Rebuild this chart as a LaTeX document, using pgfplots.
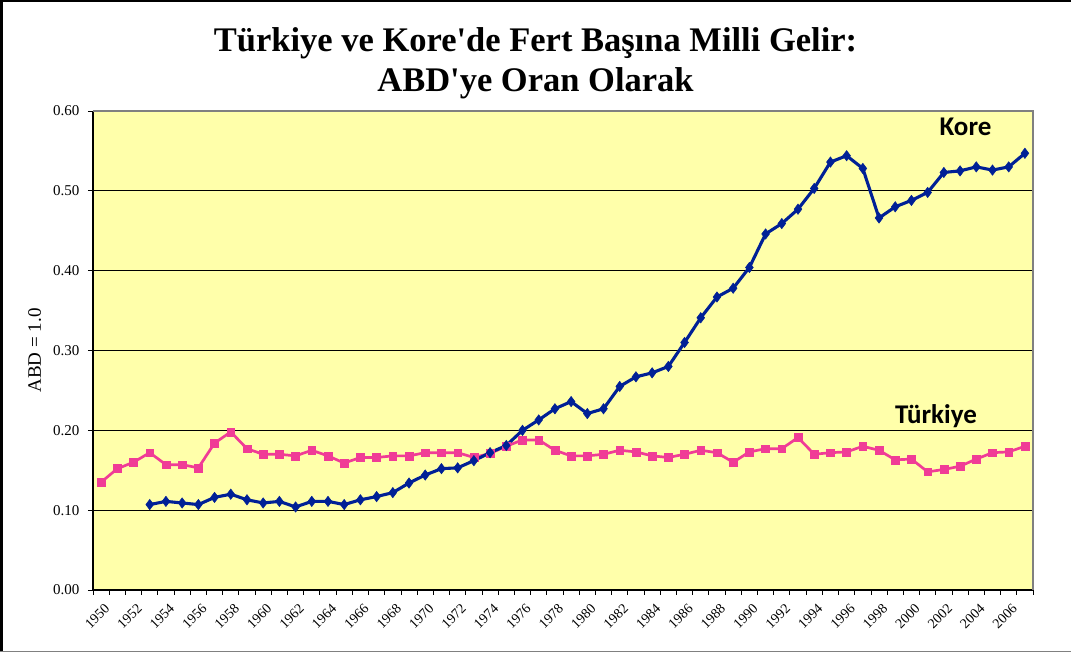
\documentclass[border=0pt]{standalone}
\usepackage{pgfplots}
\pgfplotsset{compat=1.18}
\usepackage{fontspec}
\setmainfont{Liberation Serif}[Ligatures=TeXOff]
\newfontfamily\carlito{Carlito}
\definecolor{koreblue}{RGB}{0,32,150}
\definecolor{trpink}{RGB}{240,60,150}
\definecolor{bgyellow}{RGB}{255,255,170}
\definecolor{bordgray}{RGB}{128,128,128}
\begin{document}
\begin{tikzpicture}
\useasboundingbox (0pt,0pt) rectangle (1071pt,652pt);
\fill[white] (0pt,0pt) rectangle (1071pt,652pt);
\begin{axis}[
  at={(93pt,62pt)}, anchor=south west,
  width=940pt, height=479pt, scale only axis,
  xmin=1949.5, xmax=2007.5, ymin=0, ymax=0.6,
  axis background/.style={fill=bgyellow},
  axis x line*=bottom, axis y line*=left,
  axis line style={black, line width=1.2pt},
  every outer x axis line/.append style={-}, every outer y axis line/.append style={-},
  xtick={1950,1952,...,2006},
  minor xtick={1949.5,1950.5,...,2007.5},
  major x tick style={draw=none},
  minor x tick style={black, line width=0.8pt},
  minor tick length=5pt,
  tick align=outside,
  ytick={0,0.1,...,0.6},
  major tick length=5pt,
  y tick style={black, line width=0.8pt},
  ymajorgrids, grid style={black, line width=1pt},
  xticklabel style={rotate=45, anchor=east, font=\fontsize{14}{14}\selectfont, yshift=-12pt, xshift=0pt},
  yticklabel style={font=\fontsize{15}{15}\selectfont, xshift=-5pt},
  /pgf/number format/assume math mode=true,
  x tick label style={/pgf/number format/1000 sep={}},
  y tick label style={/pgf/number format/.cd, fixed, fixed zerofill, precision=2},
  ylabel={ABD = 1.0},
  ylabel style={at={(axis description cs:-0.062,0.5)}, anchor=center, font=\fontsize{19}{19}\selectfont},
  clip=false,
]
\addplot[color=trpink, line width=2.7pt, mark=square*, mark size=3.9pt, mark options={fill=trpink, draw=trpink, line width=0.5pt}] coordinates {
(1950,0.135)(1951,0.152)(1952,0.160)(1953,0.172)(1954,0.157)(1955,0.157)(1956,0.153)(1957,0.184)(1958,0.198)(1959,0.177)
(1960,0.170)(1961,0.170)(1962,0.168)(1963,0.175)(1964,0.168)(1965,0.159)(1966,0.166)(1967,0.166)(1968,0.168)(1969,0.168)
(1970,0.172)(1971,0.172)(1972,0.172)(1973,0.166)(1974,0.171)(1975,0.180)(1976,0.188)(1977,0.188)(1978,0.175)(1979,0.168)
(1980,0.168)(1981,0.170)(1982,0.175)(1983,0.173)(1984,0.168)(1985,0.166)(1986,0.170)(1987,0.175)(1988,0.172)(1989,0.160)
(1990,0.173)(1991,0.177)(1992,0.177)(1993,0.191)(1994,0.170)(1995,0.172)(1996,0.173)(1997,0.180)(1998,0.175)(1999,0.163)
(2000,0.164)(2001,0.148)(2002,0.151)(2003,0.155)(2004,0.164)(2005,0.172)(2006,0.173)(2007,0.180)
};
\addplot[color=koreblue, line width=3.1pt, mark=diamond*, mark size=5.2pt, mark options={fill=koreblue, draw=koreblue, line width=0.5pt}] coordinates {
(1953,0.107)(1954,0.111)(1955,0.109)(1956,0.107)(1957,0.116)(1958,0.120)(1959,0.113)
(1960,0.109)(1961,0.111)(1962,0.104)(1963,0.111)(1964,0.111)(1965,0.107)(1966,0.113)(1967,0.117)(1968,0.122)(1969,0.134)
(1970,0.144)(1971,0.152)(1972,0.153)(1973,0.162)(1974,0.172)(1975,0.181)(1976,0.200)(1977,0.213)(1978,0.227)(1979,0.236)
(1980,0.221)(1981,0.227)(1982,0.255)(1983,0.267)(1984,0.272)(1985,0.280)(1986,0.310)(1987,0.341)(1988,0.367)(1989,0.378)
(1990,0.404)(1991,0.446)(1992,0.459)(1993,0.477)(1994,0.503)(1995,0.536)(1996,0.544)(1997,0.528)(1998,0.466)(1999,0.480)
(2000,0.488)(2001,0.498)(2002,0.523)(2003,0.525)(2004,0.530)(2005,0.526)(2006,0.530)(2007,0.547)
};
\draw[bordgray, line width=1.5pt] (rel axis cs:0,1) -- (rel axis cs:1,1) -- (rel axis cs:1,0);
\end{axis}
% labels
\node[anchor=base, inner sep=0pt, font=\carlito\bfseries\fontsize{27}{27}\selectfont] at (965.5pt,516pt) {Kore};
\node[anchor=base, inner sep=0pt, font=\carlito\bfseries\fontsize{27}{27}\selectfont] at (936pt,228.7pt) {Türkiye};
% title
\node[anchor=base, inner sep=0pt, font=\bfseries\fontsize{34.5}{40}\selectfont] at (535.5pt,600.3pt) {Türkiye ve Kore'de Fert Başına Milli Gelir:};
\node[anchor=base, inner sep=0pt, font=\bfseries\fontsize{34.5}{40}\selectfont] at (535.5pt,560.3pt) {ABD'ye Oran Olarak};
% frame
\draw[black, line width=2.5pt] (1.25pt,0pt) -- (1.25pt,650.75pt) -- (1071pt,650.75pt);
\draw[bordgray, line width=1.2pt] (0pt,0.8pt) -- (1071pt,0.8pt);
\end{tikzpicture}
\end{document}
